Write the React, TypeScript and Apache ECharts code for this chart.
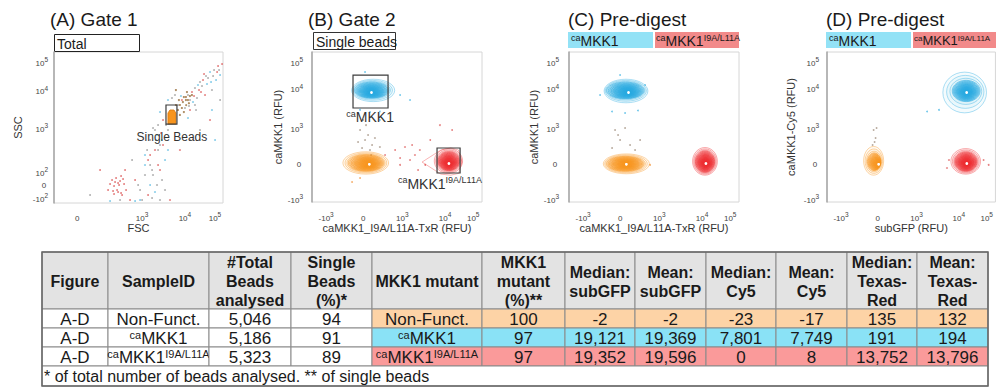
import { useEffect, useRef } from 'react';
import * as echarts from 'echarts';

type Anchor = [number, number];
type Pt = [number, number];

const FONT = 'Liberation Sans, Arial, Helvetica, sans-serif';

// Biexponential-style display scales: [value, display position]
const rfuScale: Anchor[] = [[-1000, -1], [0, 0], [1000, 1], [10000, 2.12], [100000, 2.86]];
const fscScale: Anchor[] = [[0, 0], [1000, 1], [10000, 1.67], [100000, 2.14]];
const sscScale: Anchor[] = [[-100, -0.318], [0, 0], [100, 0.273], [1000, 1.273], [10000, 2.136], [100000, 2.773]];

const rfuTicks = [-1000, 0, 1000, 10000, 100000];
const fscTicks = [0, 1000, 10000, 100000];
const sscTicks = [-100, 0, 100, 1000, 10000, 100000];

// Summary table
const tableHeaders = [
  'Figure', 'SampleID', '#Total\nBeads\nanalysed', 'Single\nBeads\n(%)*', 'MKK1 mutant',
  'MKK1\nmutant\n(%)**', 'Median:\nsubGFP', 'Mean:\nsubGFP', 'Median:\nCy5', 'Mean:\nCy5',
  'Median:\nTexas-\nRed', 'Mean:\nTexas-\nRed',
];
const figureCol = ['A-D', 'A-D', 'A-D'];
const sampleIds = ['Non-Funct.', '{sup|ca}{m|MKK1}', '{sup|ca}{m|MKK1}{sup|I9A/L11A}'];
const totalBeads = [5046, 5186, 5323];
const singleBeadsPct = [94, 91, 89];
const mutantNames = ['Non-Funct.', '{sup|ca}{m|MKK1}', '{sup|ca}{m|MKK1}{sup|I9A/L11A}'];
const mutantPct = [100, 97, 97];
const medianSubGFP = [-2, 19121, 19352];
const meanSubGFP = [-2, 19369, 19596];
const medianCy5 = [-23, 7801, 0];
const meanCy5 = [-17, 7749, 8];
const medianTxR = [135, 191, 13752];
const meanTxR = [132, 194, 13796];
const footnote = '* of total number of beads analysed. ** of single beads';

// Gate 1 events (FSC, SSC)
const gate1Grey: Pt[] = [
  [6880, 4030], [12600, 7380], [21500, 11800], [31600, 19300], [50000, 31600], [92600, 51800],
  [14700, 5450], [10000, 3360], [4480, 1830], [2360, 1200], [23300, 2980], [79000, 10000],
  [5850, 7380], [1540, 533], [2620, 411], [1710, 111], [1170, 75], [969, -43], [2920, 33],
  [1310, 316], [1000, -114], [656, -114], [2620, -114], [3430, -43], [2000, 900], [1540, 144],
  [4020, 900], [1710, -100], [188, -79], [31600, 900], [14700, 533], [147000, 5450],
  [1800, 1000], [2360, 316], [3620, 1200], [1800, 75], [2230, -7], [938, -7], [844, 187],
  [36800, 13900], [58500, 26800], [86000, 31600], [136000, 51800], [25100, 6140], [13600, 3800],
  [21500, 4030], [4980, 6140],
];
const gate1Red: Pt[] = [
  [531, 33], [594, 50], [625, 8], [656, 25], [719, 0], [562, -14], [500, 0], [672, 67],
  [625, -57], [562, -71], [688, -79], [609, -43], [750, -43], [469, -43], [578, 17], [641, -7],
  [547, -50], [672, -64], [703, 42], [8500, 5450], [17100, 8850], [39800, 22800], [126000, 71900],
  [20000, 6950], [3080, 1620], [46400, 7380], [2000, 316], [1380, 187], [2360, 144], [812, -114],
  [891, 33], [4480, -114], [68000, 1620], [7640, 316], [344, 111],
  [2770, 769], [3080, 411], [1540, 243], [2620, 111], [1380, -79], [734, 111], [29300, 10000],
  [43000, 37300], [117000, 44000], [34100, 8850], [14700, 2980], [171000, 84800],
];
const gate1Blue: Pt[] = [
  [27100, 15000], [68000, 44000], [2620, 2630], [12600, 1830], [108000, 22800], [147000, 34300],
  [4020, 5450], [1540, -7], [2000, -57], [3430, 187], [2230, 693], [500, -121], [2920, 533],
  [1170, 243], [891, -121], [100000, 533], [79000, 2980], [969, -114],
  [2120, 533], [4020, 316], [1170, 144], [54000, 16400], [73600, 19300], [18500, 4830], [8060, 6950],
];
const gate1Dense: Pt[] = [
  [4980, 2630], [10800, 6540], [7640, 4030], [8980, 4830], [10800, 5450], [9460, 6540],
  [12600, 5450], [14700, 6950], [11700, 8850], [17100, 7380], [6880, 2980], [8500, 3360],
  [6170, 4030], [7250, 5450], [7640, 2200], [9460, 2630], [6170, 10000], [13600, 4500], [11000, 4000],
];
const singleBeadGate = [3620, 6520, 1270, 4030];
const singleBeadFill: Pt[] = [[4020, 1270], [4020, 2480], [4480, 2980], [5550, 2980], [6170, 2480], [6170, 1270]];

// Population extents [xLo, xHi, yLo, yHi]; order: Non-Funct., caMKK1, caMKK1 I9A/L11A
const gate2Outer = [[-560, 640, -300, 330], [-330, 800, 4600, 22000], [5600, 42000, -280, 420]];
const gate2Core = [[-420, 520, -220, 250], [-250, 650, 5600, 17000], [6800, 33000, -200, 330]];
const txrOuter = [[-470, 740, -290, 270], [-450, 700, 4300, 22000], [6000, 35000, -330, 450]];
const txrCore = [[-380, 600, -220, 200], [-380, 600, 5400, 17000], [7000, 28000, -250, 350]];
const gfpOuter = [[-400, 130, -330, 480], [4200, 98000, 2400, 41000], [6500, 60000, -300, 420]];
const gfpCore = [[-300, 60, -200, 300], [7000, 58000, 4600, 20000], [8000, 45000, -220, 320]];

const txrMedians: Pt[] = [0, 1, 2].map((i) => [medianTxR[i], medianCy5[i]] as Pt);
const gfpMedians: Pt[] = [0, 1, 2].map((i) => [medianSubGFP[i], medianCy5[i]] as Pt);

const gate2Boxes = [[-294, 625, 3180, 31600], [6500, 34200, -268, 436]];
const gate2RedTail: Pt[] = [[2900, 40], [8000, 380], [16000, 440], [30000, 380], [40000, 40], [30000, -280], [16000, -330], [8000, -300]];

const gate2Grey: Pt[] = [
  [-110, 943], [20, 660], [100, 800], [205, 520], [-58, 436], [150, 380], [-163, 605], [280, 718],
  [47, 1180], [410, 464], [-31, 1590], [180, 239],
];
const gate2Red: Pt[] = [
  [810, 380], [940, 155], [1150, 464], [1510, 98], [1970, 239], [2570, 380], [3430, -40], [1690, 520],
  [940, -40], [4500, 660], [7600, 1180], [545, 239], [17800, 943], [2330, -184],
];
const gate2Blue: Pt[] = [[410, 1590], [150, 2520], [-110, 2850], [940, 6750], [1510, 5040], [20, 41500], [410, 2600]];
const gate2Orange: Pt[] = [[-320, -520], [-110, -410]];

const txrGrey: Pt[] = [[-163, 943], [-31, 660], [100, 1000], [231, 520], [-241, 436], [-84, 800], [362, 380], [494, 660]];
const txrBlue: Pt[] = [[-241, 2600], [100, 2380], [440, 2740], [-556, 6750], [625, 13200], [-31, 31600]];
const txrOrange: Pt[] = [[756, -40]];

const gfpGrey: Pt[] = [[-136, 943], [-84, 718], [-163, 520], [-58, 1000], [-110, 605]];
const gfpRed: Pt[] = [[77000, 98], [117000, -40], [5840, 98], [5240, -127]];
const gfpBlue: Pt[] = [[1780, 2600], [3400, 2850]];

const ORANGE = '#f7941d';
const BLUE = '#27aae1';
const RED = '#ee2a2f';
const POP_COLORS = [ORANGE, BLUE, RED];
const ROW_FILLS = ['#fdd3a6', '#8ae2f6', '#fa9a9a'];
const HEADER_BLUE = '#93e2f6';
const HEADER_RED = '#f28a8a';

const OUTER_STEPS = [0, 0.4, 0.75];
const INNER_SCALES = [1, 0.93, 0.86, 0.79, 0.72, 0.66, 0.6, 0.54, 0.48, 0.43, 0.38, 0.33, 0.28, 0.23, 0.19, 0.15, 0.11, 0.08];

function toDisplay(v: number, s: Anchor[]): number {
  let i = 0;
  while (i < s.length - 2 && v > s[i + 1][0]) i++;
  const [v0, p0] = s[i];
  const [v1, p1] = s[i + 1];
  if (v0 > 0 && v > 0) return p0 + ((p1 - p0) * Math.log10(v / v0)) / Math.log10(v1 / v0);
  return p0 + ((p1 - p0) * (v - v0)) / (v1 - v0);
}

function rgba(hex: string, a: number) {
  const n = parseInt(hex.slice(1), 16);
  return `rgba(${n >> 16},${(n >> 8) & 255},${n & 255},${a})`;
}

function tickText(v: number): string {
  if (v === 0) return '{b|0}{s| }';
  const e = Math.round(Math.log10(Math.abs(v)));
  return `{b|${v < 0 ? '-' : ''}10}{s|${e}}`;
}

const tickRich = {
  b: { fontSize: 8, fontFamily: FONT, color: '#444', verticalAlign: 'bottom' },
  s: { fontSize: 6.5, fontFamily: FONT, color: '#444', verticalAlign: 'top', padding: [0, 0, 4, 0] },
};

function supRich(size: number, color = '#222') {
  return {
    m: { fontSize: size, fontFamily: FONT, fill: color, color, verticalAlign: 'bottom' },
    sup: { fontSize: Math.round(size * 0.65), fontFamily: FONT, fill: color, color, verticalAlign: 'top', padding: [0, 0, Math.round(size * 0.4), 0] },
  };
}

function makeAxis(dim: 'x' | 'y', gridIndex: number, scale: Anchor[], ticks: number[], min: number, max: number, name: string, nameGap: number, margin: number) {
  const values = ticks.map((t) => toDisplay(t, scale));
  return {
    type: 'value', gridIndex, min, max, name, nameLocation: 'middle', nameGap,
    nameRotate: dim === 'y' ? 90 : 0,
    nameTextStyle: { fontFamily: FONT, fontSize: 11, color: '#333' },
    axisLine: { show: dim === 'y', onZero: false, lineStyle: { color: '#a6a6a6', width: 1.5 } },
    axisTick: { show: false },
    splitLine: { show: false },
    axisLabel: {
      customValues: values,
      margin,
      formatter: (val: number) => {
        let best = 0;
        values.forEach((p, i) => { if (Math.abs(p - val) < Math.abs(values[best] - val)) best = i; });
        return tickText(ticks[best]);
      },
      rich: tickRich,
    },
  };
}

function scatterSeries(idx: number, pts: Pt[], sx: Anchor[], sy: Anchor[], color: string, size = 1.8) {
  return {
    type: 'scatter', xAxisIndex: idx, yAxisIndex: idx, symbolSize: size, silent: true, z: 2,
    itemStyle: { color, opacity: 0.85 },
    data: pts.map((p) => [toDisplay(p[0], sx), toDisplay(p[1], sy)]),
  };
}

function contourSeries(idx: number, outer: number[][], core: number[][], medians: Pt[], sx: Anchor[], sy: Anchor[]) {
  return {
    type: 'custom', xAxisIndex: idx, yAxisIndex: idx, clip: true, silent: true, z: 3,
    data: medians.map((m, i) => [toDisplay(m[0], sx), toDisplay(m[1], sy), i]),
    renderItem: (_params: any, api: any) => {
      const i = api.value(2);
      const color = POP_COLORS[i];
      const m = api.coord([api.value(0), api.value(1)]);
      const box = (b: number[]) => {
        const p0 = api.coord([toDisplay(b[0], sx), toDisplay(b[2], sy)]);
        const p1 = api.coord([toDisplay(b[1], sx), toDisplay(b[3], sy)]);
        return { cx: (p0[0] + p1[0]) / 2, cy: (p0[1] + p1[1]) / 2, rx: Math.abs(p1[0] - p0[0]) / 2, ry: Math.abs(p1[1] - p0[1]) / 2 };
      };
      const o = box(outer[i]);
      const k = box(core[i]);
      const children: any[] = [];
      OUTER_STEPS.forEach((t) => {
        children.push({
          type: 'ellipse',
          shape: { cx: o.cx + (k.cx - o.cx) * t, cy: o.cy + (k.cy - o.cy) * t, rx: o.rx + (k.rx - o.rx) * t, ry: o.ry + (k.ry - o.ry) * t },
          style: { fill: rgba(color, 0.05), stroke: rgba(color, 0.55), lineWidth: 0.7 },
        });
      });
      INNER_SCALES.forEach((s) => {
        children.push({
          type: 'ellipse',
          shape: { cx: m[0] + (k.cx - m[0]) * s, cy: m[1] + (k.cy - m[1]) * s, rx: k.rx * s, ry: k.ry * s },
          style: { fill: rgba(color, 0.16), stroke: rgba(color, 0.9), lineWidth: 0.6 },
        });
      });
      children.push({ type: 'circle', shape: { cx: m[0], cy: m[1], r: 1.4 }, style: { fill: '#fff' } });
      return { type: 'group', children };
    },
  };
}

function polygonSeries(idx: number, polys: Pt[][], sx: Anchor[], sy: Anchor[], style: any) {
  return {
    type: 'custom', xAxisIndex: idx, yAxisIndex: idx, clip: true, silent: true, z: 4,
    data: polys.map((p, i) => [toDisplay(p[0][0], sx), toDisplay(p[0][1], sy), i]),
    renderItem: (_params: any, api: any) => {
      const poly = polys[api.value(2)];
      const points = poly.map((p) => api.coord([toDisplay(p[0], sx), toDisplay(p[1], sy)]));
      return { type: 'polygon', shape: { points }, style };
    },
  };
}

function gateSeries(idx: number, boxes: number[][], sx: Anchor[], sy: Anchor[]) {
  return {
    type: 'custom', xAxisIndex: idx, yAxisIndex: idx, clip: true, silent: true, z: 5,
    data: boxes.map((b, i) => [toDisplay(b[0], sx), toDisplay(b[2], sy), i]),
    renderItem: (_params: any, api: any) => {
      const b = boxes[api.value(2)];
      const p0 = api.coord([toDisplay(b[0], sx), toDisplay(b[3], sy)]);
      const p1 = api.coord([toDisplay(b[1], sx), toDisplay(b[2], sy)]);
      return {
        type: 'rect',
        shape: { x: p0[0], y: p0[1], width: p1[0] - p0[0], height: p1[1] - p0[1] },
        style: { fill: 'none', stroke: '#3c3c3c', lineWidth: 1.2 },
      };
    },
  };
}

function textSeries(idx: number, items: { at: Pt; text: string; size: number }[], sx: Anchor[], sy: Anchor[]) {
  return {
    type: 'custom', xAxisIndex: idx, yAxisIndex: idx, clip: false, silent: true, z: 6,
    data: items.map((it, i) => [toDisplay(it.at[0], sx), toDisplay(it.at[1], sy), i]),
    renderItem: (_params: any, api: any) => {
      const it = items[api.value(2)];
      const p = api.coord([api.value(0), api.value(1)]);
      return {
        type: 'text', x: p[0], y: p[1],
        style: {
          text: it.text, align: 'center', verticalAlign: 'middle', textAlign: 'center', textVerticalAlign: 'middle',
          fontSize: it.size, fontFamily: FONT, fill: '#333', rich: supRich(it.size, '#333'),
        },
      };
    },
  };
}

function txt(x: number, y: number, text: string, size: number, opts: any = {}) {
  const align = opts.align || 'left';
  return {
    type: 'text', x, y, silent: true,
    style: {
      text, fontSize: size, fontFamily: FONT, fontWeight: opts.bold ? 'bold' : 'normal', fill: opts.color || '#1a1a1a',
      align, textAlign: align, verticalAlign: 'middle', textVerticalAlign: 'middle',
      lineHeight: opts.lineHeight, rich: supRich(size, opts.color || '#1a1a1a'),
    },
  };
}

function rect(x: number, y: number, w: number, h: number, fill: string, stroke?: string, lineWidth = 1) {
  return {
    type: 'rect', silent: true, shape: { x, y, width: w, height: h },
    style: { fill, stroke: stroke || 'none', lineWidth },
  };
}

function fmt(n: number) {
  return n.toLocaleString('en-US');
}

function buildTable() {
  const colX = [42, 108, 209, 291, 372, 482, 565, 635, 706, 776, 847, 917, 988];
  const rowY = [252, 309, 328, 347, 366, 386];
  const els: any[] = [];
  const rows = [0, 1, 2].map((r) => [
    figureCol[r], sampleIds[r], fmt(totalBeads[r]), String(singleBeadsPct[r]), mutantNames[r], String(mutantPct[r]),
    fmt(medianSubGFP[r]), fmt(meanSubGFP[r]), fmt(medianCy5[r]), fmt(meanCy5[r]), fmt(medianTxR[r]), fmt(meanTxR[r]),
  ]);
  tableHeaders.forEach((h, c) => {
    const x0 = colX[c];
    const w = colX[c + 1] - x0;
    els.push(rect(x0, rowY[0], w, rowY[1] - rowY[0], '#e3e3e3', '#8a8a8a'));
    els.push(txt(x0 + w / 2, (rowY[0] + rowY[1]) / 2 + 1, h, 16, { align: 'center', bold: true, lineHeight: 19 }));
  });
  rows.forEach((cells, r) => {
    cells.forEach((cell, c) => {
      const x0 = colX[c];
      const w = colX[c + 1] - x0;
      const y0 = rowY[r + 1];
      const h = rowY[r + 2] - y0;
      els.push(rect(x0, y0, w, h, c >= 4 ? ROW_FILLS[r] : '#ffffff', '#8a8a8a'));
      const t = cell.includes('{') ? cell : `{m|${cell}}`;
      els.push(txt(x0 + w / 2, y0 + h / 2 + 0.5, t, 17, { align: 'center' }));
    });
  });
  els.push(rect(colX[0], rowY[4], colX[12] - colX[0], rowY[5] - rowY[4], '#ffffff', '#8a8a8a'));
  els.push(txt(colX[0] + 2, (rowY[4] + rowY[5]) / 2 + 0.5, footnote, 16));
  els.push(rect(colX[0], rowY[0], colX[12] - colX[0], rowY[5] - rowY[0], 'none', '#666666', 1.5));
  return els;
}

function buildOption() {
  const graphicEls: any[] = [
    txt(50, 19, '(A) Gate 1', 19),
    txt(308, 19, '(B) Gate 2', 19),
    txt(568, 19, '(C) Pre-digest', 19),
    txt(826, 19, '(D) Pre-digest', 19),
    rect(54.5, 34.5, 85, 17, '#fff', '#222'),
    txt(57, 43.5, 'Total', 14),
    rect(313.5, 32.5, 82, 17, '#fff', '#333'),
    txt(316, 41.5, 'Single beads', 14),
    rect(568, 32, 85, 16, HEADER_BLUE),
    rect(655, 32, 84, 16, HEADER_RED),
    txt(571, 40.5, '{sup|ca}{m|MKK1}', 14),
    txt(656, 40.5, '{sup|ca}{m|MKK1}{sup|I9A/L11A}', 14),
    rect(826, 32, 85, 16, HEADER_BLUE),
    rect(913, 32, 84, 16, HEADER_RED),
    txt(829, 40.5, '{sup|ca}{m|MKK1}', 14),
    txt(914, 40.5, '{sup|ca}{m|MKK1}{sup|I9A/L11A}', 13),
    ...buildTable(),
  ];

  const grids = [
    { left: 54, top: 52, width: 169, height: 151 },
    { left: 312, top: 52, width: 170, height: 150 },
    { left: 569, top: 52, width: 170, height: 150 },
    { left: 827, top: 52, width: 170, height: 150 },
  ].map((g) => ({ ...g, show: true, borderColor: '#d6d6d6', borderWidth: 1, backgroundColor: '#ffffff' }));

  const txrLabel = 'caMKK1_I9A/L11A-TxR (RFU)';

  return {
    animation: false,
    backgroundColor: '#ffffff',
    textStyle: { fontFamily: FONT },
    grid: grids,
    xAxis: [
      makeAxis('x', 0, fscScale, fscTicks, -0.375, 2.265, 'FSC', 19, 8),
      makeAxis('x', 1, rfuScale, rfuTicks, -1.37, 3.09, txrLabel, 19, 9),
      makeAxis('x', 2, rfuScale, rfuTicks, -1.37, 3.09, txrLabel, 19, 9),
      makeAxis('x', 3, rfuScale, rfuTicks, -1.37, 3.09, 'subGFP (RFU)', 19, 9),
    ],
    yAxis: [
      makeAxis('y', 0, sscScale, sscTicks, -0.432, 3.0, 'SSC', 31, 6),
      makeAxis('y', 1, rfuScale, rfuTicks, -1.085, 3.14, 'caMKK1 (RFU)', 28, 9),
      makeAxis('y', 2, rfuScale, rfuTicks, -1.085, 3.14, 'caMKK1 (RFU)', 30, 10),
      makeAxis('y', 3, rfuScale, rfuTicks, -1.085, 3.14, 'caMKK1-Cy5 (RFU)', 31, 8),
    ],
    graphic: { elements: graphicEls },
    series: [
      // (A) FSC/SSC
      scatterSeries(0, gate1Grey, fscScale, sscScale, '#9a9a9a'),
      scatterSeries(0, gate1Red, fscScale, sscScale, '#dd5c5c'),
      scatterSeries(0, gate1Blue, fscScale, sscScale, '#62bde3'),
      scatterSeries(0, gate1Dense, fscScale, sscScale, '#a07848', 2.2),
      polygonSeries(0, [singleBeadFill], fscScale, sscScale, { fill: ORANGE, stroke: '#d9760a', lineWidth: 0.8 }),
      gateSeries(0, [singleBeadGate], fscScale, sscScale),
      textSeries(0, [{ at: [4980, 624], text: '{m|Single Beads}', size: 12 }], fscScale, sscScale),
      // (B) Gate 2
      scatterSeries(1, gate2Grey, rfuScale, rfuScale, '#a89888'),
      scatterSeries(1, gate2Red, rfuScale, rfuScale, '#e06a6a'),
      scatterSeries(1, gate2Blue, rfuScale, rfuScale, '#55bce6'),
      scatterSeries(1, gate2Orange, rfuScale, rfuScale, '#f3a050'),
      polygonSeries(1, [gate2RedTail], rfuScale, rfuScale, { fill: 'none', stroke: rgba(RED, 0.5), lineWidth: 0.7 }),
      contourSeries(1, gate2Outer, gate2Core, txrMedians, rfuScale, rfuScale),
      gateSeries(1, gate2Boxes, rfuScale, rfuScale),
      textSeries(1, [
        { at: [155, 1890], text: '{sup|ca}{m|MKK1}', size: 14 },
        { at: [7600, -550], text: '{sup|ca}{m|MKK1}{sup|I9A/L11A}', size: 14 },
      ], rfuScale, rfuScale),
      // (C) Pre-digest, TxR vs Cy5
      scatterSeries(2, txrGrey, rfuScale, rfuScale, '#a89888'),
      scatterSeries(2, txrBlue, rfuScale, rfuScale, '#55bce6'),
      scatterSeries(2, txrOrange, rfuScale, rfuScale, '#f3a050'),
      contourSeries(2, txrOuter, txrCore, txrMedians, rfuScale, rfuScale),
      // (D) Pre-digest, subGFP vs Cy5
      scatterSeries(3, gfpGrey, rfuScale, rfuScale, '#a89888'),
      scatterSeries(3, gfpRed, rfuScale, rfuScale, '#e06a6a'),
      scatterSeries(3, gfpBlue, rfuScale, rfuScale, '#55bce6'),
      contourSeries(3, gfpOuter, gfpCore, gfpMedians, rfuScale, rfuScale),
    ],
  };
}

export default function App() {
  const ref = useRef<HTMLDivElement>(null);
  useEffect(() => {
    const chart = echarts.init(ref.current!, undefined, { renderer: 'svg' });
    chart.setOption(buildOption() as any);
    return () => chart.dispose();
  }, []);
  return <div ref={ref} style={{ position: 'fixed', left: 0, top: 0, width: 996, height: 389, background: '#fff' }} />;
}
